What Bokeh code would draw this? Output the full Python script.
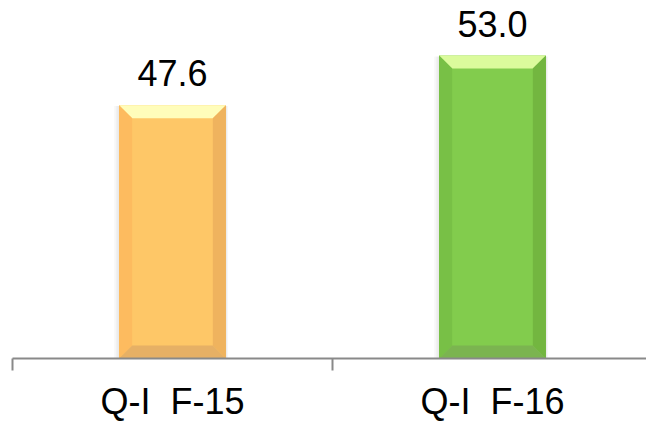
from bokeh.plotting import figure
from bokeh.models import Range1d, FixedTicker, ColumnDataSource
from bokeh.embed import file_html
from bokeh.resources import INLINE
from bokeh.core.properties import value

categories = ["Q-I\u00a0\u00a0F-15", "Q-I\u00a0\u00a0F-16"]
values = [47.6, 53.0]
labels = ["47.6", "53.0"]
base = 20.0

centre_colors = ["#FEC767", "#82CC4D"]
top_colors = ["#FFFDBA", "#DBFB9C"]
left_colors = ["#FDBB5F", "#78C046"]
right_colors = ["#EFB35E", "#73B640"]
bottom_colors = ["#E6B065", "#7BB450"]

xs = [i + 0.5 for i in range(len(categories))]
bw = 0.334
dx = 0.041
dy = 1.42

p = figure(width=646, height=424, output_backend="svg", toolbar_location=None,
           x_range=Range1d(0, 1.98125), y_range=Range1d(base, 59.0),
           min_border_left=12, min_border_right=0, min_border_top=0, min_border_bottom=66)
p.outline_line_color = None
p.grid.grid_line_color = None
p.yaxis.visible = False

# soft shadows
for i, (x, v) in enumerate(zip(xs, values)):
    for k in range(3):
        e = 0.005 * (k + 1)
        p.patch([x - bw / 2 - e, x + bw / 2 + e * 0.4, x + bw / 2 + e * 0.4, x - bw / 2 - e],
                [base, base, v - 0.1, v - 0.1], color="#888888", alpha=0.06, line_color=None)

for i, (x, v) in enumerate(zip(xs, values)):
    l, r = x - bw / 2, x + bw / 2
    b, t = base, v
    p.patch([l, r, r, l], [b, b, t, t], color=centre_colors[i], line_color=None)
    p.patch([l, r, r - dx, l + dx], [t, t, t - dy, t - dy], color=top_colors[i], line_color=None)
    p.patch([l, l + dx, l + dx, l], [b, b + dy, t - dy, t], color=left_colors[i], line_color=None)
    p.patch([r, r - dx, r - dx, r], [b, b + dy, t - dy, t], color=right_colors[i], line_color=None)
    p.patch([l, r, r - dx, l + dx], [b, b, b + dy, b + dy], color=bottom_colors[i], line_color=None)

src = ColumnDataSource(dict(x=xs, y=values, t=labels))
p.text(x="x", y="y", text="t", source=src, text_align="center", text_baseline="alphabetic",
       y_offset=-32, text_font=value("Liberation Sans"), text_font_size="36px", text_color="#000000")

ax = p.xaxis[0]
ax.ticker = FixedTicker(ticks=xs, minor_ticks=[0, 1, 2])
ax.major_label_overrides = {x: c for x, c in zip(xs, categories)}
ax.major_tick_line_color = None
ax.major_tick_in = 0
ax.major_tick_out = 0
ax.minor_tick_in = 0
ax.minor_tick_out = 12
ax.minor_tick_line_color = "#898989"
ax.minor_tick_line_width = 2
ax.axis_line_color = "#898989"
ax.axis_line_width = 2
ax.major_label_text_font = "Liberation Sans"
ax.major_label_text_font_size = "36px"
ax.major_label_text_color = "#000000"
ax.major_label_standoff = 10

open("out.html", "w").write(file_html(p, INLINE))
